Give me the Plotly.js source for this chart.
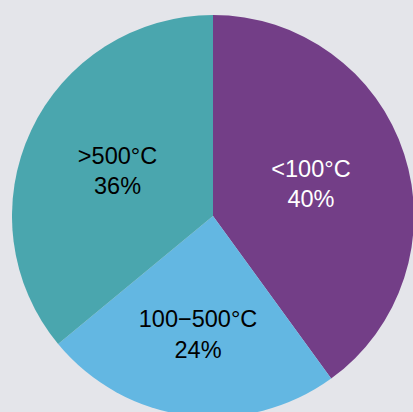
<!DOCTYPE html>
<html>
<head>
<meta charset="utf-8">
<script src="https://cdn.plot.ly/plotly-3.0.1.min.js"></script>
<style>
html,body{margin:0;padding:0;width:413px;height:412px;overflow:hidden;background:#e4e5ea;}
#chart{position:absolute;left:12px;top:15px;width:402px;height:402px;}
</style>
</head>
<body>
<div id="chart"></div>
<script>
const labels = ["<100°C", "100\u2212500°C", ">500°C"];
const values = [40, 24, 36];
const colors = ["#733e87", "#63b7e2", "#4aa6ae"];
const textColors = ["#ffffff", "#000000", "#000000"];

Plotly.newPlot("chart", [{
  type: "pie",
  labels: labels,
  values: values,
  sort: false,
  direction: "clockwise",
  rotation: 0,
  marker: {colors: colors, line: {width: 0}},
  texttemplate: "%{label}<br>%{percent:.0%}",
  textposition: "inside",
  insidetextorientation: "horizontal",
  insidetextfont: {family: "Liberation Sans, Arial, sans-serif", size: 23.5, color: textColors},
  hoverinfo: "none",
  showlegend: false
}], {
  width: 402, height: 402,
  margin: {l: 0, r: 0, t: 0, b: 0, pad: 0},
  paper_bgcolor: "rgba(0,0,0,0)",
  plot_bgcolor: "rgba(0,0,0,0)",
  showlegend: false
}, {staticPlot: true, displayModeBar: false});
</script>
</body>
</html>
